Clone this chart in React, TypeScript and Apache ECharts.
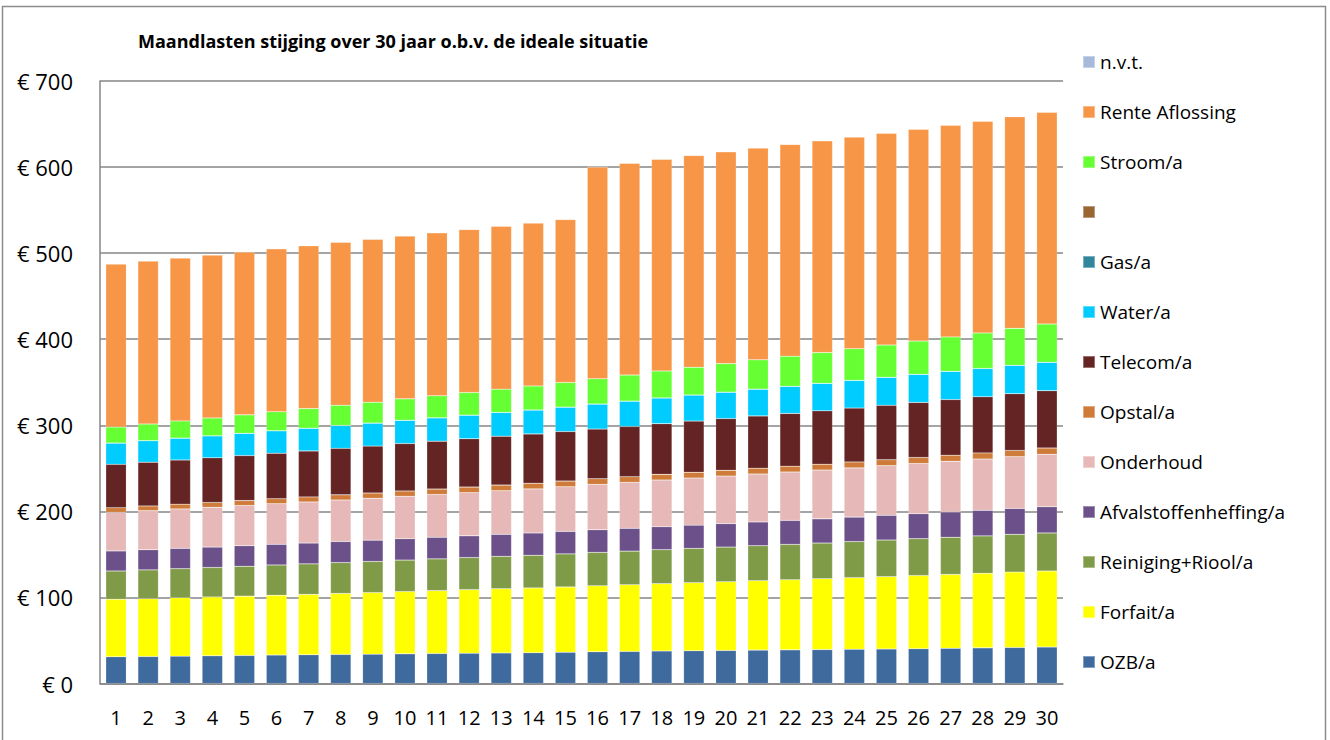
import React, { useEffect, useRef } from "react";
import * as echarts from "echarts";

const years = Array.from({ length: 30 }, (_, i) => String(i + 1));
const yTicks = [0, 100, 200, 300, 400, 500, 600, 700];

const ozb = [31.1, 31.4, 31.8, 32.2, 32.6, 33.1, 33.4, 33.8, 34.1, 34.5, 34.9, 35.2, 35.5, 35.8, 36.3, 36.9, 37.3, 37.8, 38.1, 38.4, 38.8, 39.1, 39.4, 39.8, 40.1, 40.5, 40.9, 41.4, 41.9, 42.4];
const forfait = [66.7, 67.2, 67.8, 68.3, 68.9, 69.4, 70.1, 70.8, 71.5, 72.3, 73.0, 73.8, 74.6, 75.2, 75.9, 76.6, 77.4, 78.2, 79.0, 79.8, 80.6, 81.4, 82.3, 83.1, 84.0, 84.9, 85.8, 86.6, 87.5, 88.3];
const reiniging = [32.9, 33.4, 33.8, 34.3, 34.7, 35.2, 35.5, 35.9, 36.2, 36.6, 36.9, 37.3, 37.6, 38.0, 38.4, 38.8, 39.1, 39.5, 39.9, 40.3, 40.7, 41.1, 41.5, 42.0, 42.6, 42.9, 43.2, 43.5, 43.9, 44.2];
const afval = [23.3, 23.4, 23.6, 23.7, 23.9, 24.0, 24.2, 24.5, 24.7, 24.9, 25.1, 25.3, 25.6, 25.9, 26.1, 26.3, 26.5, 26.7, 27.0, 27.3, 27.6, 27.9, 28.1, 28.4, 28.7, 29.0, 29.4, 29.7, 30.1, 30.5];
const onderhoud = [44.9, 45.4, 45.8, 46.3, 46.7, 47.2, 47.7, 48.2, 48.7, 49.2, 49.7, 50.2, 50.7, 51.2, 51.9, 52.7, 53.4, 54.2, 54.7, 55.2, 55.7, 56.2, 56.7, 57.2, 57.7, 58.3, 58.9, 59.6, 60.2, 60.9];
const opstal = [5.4, 5.5, 5.6, 5.6, 5.7, 5.8, 5.9, 6.0, 6.1, 6.2, 6.3, 6.4, 6.5, 6.6, 6.6, 6.6, 6.6, 6.6, 6.7, 6.7, 6.8, 6.8, 6.8, 6.9, 6.9, 7.0, 7.1, 7.1, 7.2, 7.3];
const telecom = [50.3, 50.8, 51.3, 51.8, 52.3, 52.8, 53.4, 54.0, 54.5, 55.1, 55.6, 56.2, 56.8, 57.3, 57.5, 57.7, 58.3, 58.9, 59.5, 60.1, 60.7, 61.3, 62.0, 62.6, 63.2, 63.9, 64.6, 65.2, 65.9, 66.6];
const water = [24.8, 25.1, 25.4, 25.6, 25.9, 26.2, 26.4, 26.6, 26.8, 27.0, 27.2, 27.4, 27.6, 27.8, 28.4, 29.1, 29.5, 29.9, 30.3, 30.7, 31.1, 31.5, 31.9, 32.2, 32.6, 32.7, 32.8, 32.9, 33.0, 33.0];
const gas = Array(30).fill(0);
const unnamed = Array(30).fill(0);
const stroom = [18.6, 19.3, 20.0, 20.7, 21.4, 22.1, 22.8, 23.5, 24.2, 24.9, 25.6, 26.3, 27.1, 27.9, 28.6, 29.4, 30.3, 31.3, 32.2, 33.2, 34.1, 35.0, 35.8, 36.7, 37.5, 38.7, 40.0, 41.3, 42.9, 44.5];
const rente = [189.3, 189.3, 189.3, 189.3, 189.3, 189.3, 189.3, 189.3, 189.3, 189.3, 189.3, 189.3, 189.3, 189.3, 189.3, 246, 246, 246, 246, 246, 246, 246, 246, 246, 246, 246, 246, 246, 246, 246];
const nvt = Array(30).fill(0);

const seriesDefs = [
  { name: "OZB/a", data: ozb, color: "#3F6A9E" },
  { name: "Forfait/a", data: forfait, color: "#FFFF00" },
  { name: "Reiniging+Riool/a", data: reiniging, color: "#809B48" },
  { name: "Afvalstoffenheffing/a", data: afval, color: "#6B5089" },
  { name: "Onderhoud", data: onderhoud, color: "#E6B8B7" },
  { name: "Opstal/a", data: opstal, color: "#CF7B39" },
  { name: "Telecom/a", data: telecom, color: "#632423" },
  { name: "Water/a", data: water, color: "#00CCFF" },
  { name: "Gas/a", data: gas, color: "#31869B" },
  { name: " ", data: unnamed, color: "#996633" },
  { name: "Stroom/a", data: stroom, color: "#66FF33" },
  { name: "Rente Aflossing", data: rente, color: "#F79646" },
  { name: "n.v.t.", data: nvt, color: "#A7B9DA" },
];

const FONT = "'Open Sans', sans-serif";

export default function App() {
  const ref = useRef<HTMLDivElement>(null);
  useEffect(() => {
    document.body.style.margin = "0";
    if (!ref.current) return;
    const chart = echarts.init(ref.current, null, { renderer: "svg" });
    chart.setOption({
      animation: false,
      backgroundColor: "#ffffff",
      textStyle: { fontFamily: FONT },
      title: {
        text: "Maandlasten stijging over 30 jaar o.b.v. de ideale situatie",
        left: 138,
        top: 32,
        padding: 0,
        textStyle: { fontFamily: FONT, fontSize: 18, fontWeight: "bold", color: "#000" },
      },
      graphic: [
        {
          type: "rect",
          shape: { x: 2.5, y: 6.5, width: 1323, height: 800 },
          style: { fill: "none", stroke: "#8c8c8c", lineWidth: 1.5 },
          silent: true,
        },
      ],
      legend: {
        orient: "vertical",
        left: 1082,
        top: 52,
        padding: 0,
        itemWidth: 12,
        itemHeight: 12,
        itemGap: 30,
        icon: "rect",
        data: seriesDefs.map((s) => s.name).reverse(),
        textStyle: { fontFamily: FONT, fontSize: 19, color: "#000", lineHeight: 20 },
      },
      grid: { left: 100, top: 81, right: 267, bottom: 56.5, containLabel: false },
      xAxis: {
        type: "category",
        data: years,
        axisLine: { lineStyle: { color: "#868686", width: 1.5 } },
        axisTick: { show: false },
        axisLabel: { color: "#000", fontSize: 20, margin: 24, fontFamily: FONT, interval: 0 },
      },
      yAxis: {
        type: "value",
        min: yTicks[0],
        max: yTicks[yTicks.length - 1],
        interval: 100,
        axisLine: { show: true, lineStyle: { color: "#868686", width: 1.5 } },
        axisTick: { show: false },
        splitLine: { lineStyle: { color: "#868686", width: 1.5 } },
        axisLabel: {
          color: "#000",
          fontSize: 22,
          margin: 27,
          fontFamily: FONT,
          formatter: (v: number) => "€ " + v,
        },
      },
      series: seriesDefs.map((s) => ({
        name: s.name,
        type: "bar",
        stack: "total",
        data: s.data,
        barWidth: 20.5,
        itemStyle: { color: s.color, borderColor: "rgba(255,255,255,0.35)", borderWidth: 0.5 },
        emphasis: { disabled: true },
      })),
    });
    return () => chart.dispose();
  }, []);
  return <div ref={ref} style={{ width: 1330, height: 740 }} />;
}
